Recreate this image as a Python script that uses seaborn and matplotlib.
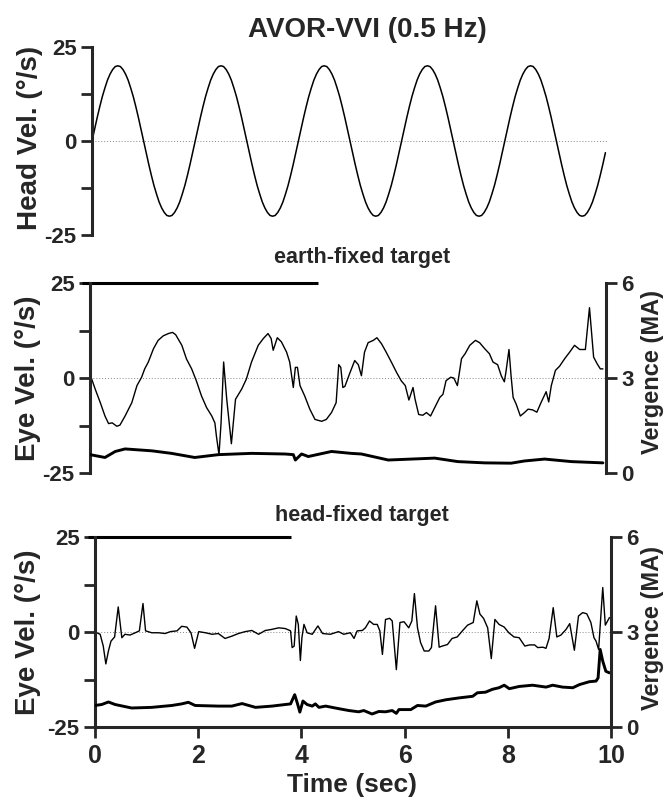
import numpy as np
import pandas as pd
import matplotlib
matplotlib.use('Agg')
import matplotlib.pyplot as plt
import seaborn as sns

sns.set_style('ticks')
plt.rcParams['font.family'] = ['Liberation Sans', 'DejaVu Sans']
plt.rcParams['font.weight'] = 'bold'

# Head velocity (deg/s), sampled every 0.05 s
head_t = [round(0.05 * i, 2) for i in range(199)] + [9.95]
head_vel = [
    0, 3.1, 6.2, 9.1, 11.8, 14.1, 16.2, 17.8, 19.0, 19.8, 20.0, 19.8, 19.0, 17.8, 16.2, 14.1, 11.8, 9.1, 6.2, 3.1,
    0, -3.1, -6.2, -9.1, -11.8, -14.1, -16.2, -17.8, -19.0, -19.8, -20.0, -19.8, -19.0, -17.8, -16.2, -14.1, -11.8, -9.1, -6.2, -3.1,
    0, 3.1, 6.2, 9.1, 11.8, 14.1, 16.2, 17.8, 19.0, 19.8, 20.0, 19.8, 19.0, 17.8, 16.2, 14.1, 11.8, 9.1, 6.2, 3.1,
    0, -3.1, -6.2, -9.1, -11.8, -14.1, -16.2, -17.8, -19.0, -19.8, -20.0, -19.8, -19.0, -17.8, -16.2, -14.1, -11.8, -9.1, -6.2, -3.1,
    0, 3.1, 6.2, 9.1, 11.8, 14.1, 16.2, 17.8, 19.0, 19.8, 20.0, 19.8, 19.0, 17.8, 16.2, 14.1, 11.8, 9.1, 6.2, 3.1,
    0, -3.1, -6.2, -9.1, -11.8, -14.1, -16.2, -17.8, -19.0, -19.8, -20.0, -19.8, -19.0, -17.8, -16.2, -14.1, -11.8, -9.1, -6.2, -3.1,
    0, 3.1, 6.2, 9.1, 11.8, 14.1, 16.2, 17.8, 19.0, 19.8, 20.0, 19.8, 19.0, 17.8, 16.2, 14.1, 11.8, 9.1, 6.2, 3.1,
    0, -3.1, -6.2, -9.1, -11.8, -14.1, -16.2, -17.8, -19.0, -19.8, -20.0, -19.8, -19.0, -17.8, -16.2, -14.1, -11.8, -9.1, -6.2, -3.1,
    0, 3.1, 6.2, 9.1, 11.8, 14.1, 16.2, 17.8, 19.0, 19.8, 20.0, 19.8, 19.0, 17.8, 16.2, 14.1, 11.8, 9.1, 6.2, 3.1,
    0, -3.1, -6.2, -9.1, -11.8, -14.1, -16.2, -17.8, -19.0, -19.8, -20.0, -19.8, -19.0, -17.8, -16.2, -14.1, -11.8, -9.1, -6.2,
    -3.1,
]

# Earth-fixed target: eye velocity (deg/s)
earth_t = [0.0, 0.10, 0.20, 0.29, 0.36, 0.43, 0.52, 0.58, 0.68, 0.81, 0.91, 1.00, 1.06, 1.13,
           1.23, 1.32, 1.42, 1.52, 1.60, 1.66, 1.78, 1.87, 1.97, 2.06, 2.16, 2.26, 2.36, 2.42,
           2.45, 2.50, 2.54, 2.59, 2.65, 2.74, 2.82, 2.94, 3.03, 3.13, 3.26, 3.36, 3.45, 3.51,
           3.55, 3.63, 3.71, 3.81, 3.87, 3.94, 3.98, 4.02, 4.07, 4.16, 4.26, 4.36, 4.49, 4.58,
           4.68, 4.77, 4.82, 4.86, 4.90, 4.94, 5.03, 5.13, 5.20, 5.26, 5.32, 5.39, 5.49, 5.56,
           5.65, 5.74, 5.84, 5.94, 6.03, 6.11, 6.18, 6.26, 6.30, 6.37, 6.45, 6.52, 6.60, 6.68,
           6.78, 6.84, 6.90, 6.99, 7.05, 7.12, 7.20, 7.27, 7.36, 7.47, 7.55, 7.65, 7.74, 7.81,
           7.90, 7.97, 8.03, 8.06, 8.12, 8.16, 8.20, 8.26, 8.34, 8.42, 8.49, 8.58, 8.66, 8.74,
           8.84, 8.89, 8.94, 9.02, 9.10, 9.20, 9.29, 9.39, 9.49, 9.60, 9.68, 9.76, 9.83, 9.89,
           9.94]
earth_eye = [1.0, -2.9, -6.5, -10.0, -12.0, -11.8, -12.7, -12.4, -10.0, -6.5, -2.0, 0.2, 2.4, 4.2,
             7.7, 9.9, 11.1, 11.7, 12.0, 11.4, 8.6, 5.0, 2.4, -0.7, -4.7, -7.8, -10.0, -11.8,
             -15.3, -20.2, -11.8, 4.2, -5.6, -17.3, -5.6, -2.9, -0.3, 4.2, 8.6, 10.4, 11.7, 10.4,
             7.3, 10.6, 9.5, 6.8, 4.2, -2.5, 2.8, 2.8, -2.0, -4.7, -8.2, -10.9, -11.4, -10.9,
             -9.1, -6.5, 3.5, 2.8, -2.5, -2.2, 1.1, 4.6, 3.5, 0.6, 6.8, 9.3, 9.9, 10.6,
             9.0, 6.8, 4.2, 1.5, -0.7, -2.0, -5.8, -2.5, -5.6, -9.6, -9.8, -9.1, -10.0, -7.8,
             -5.1, -4.3, -0.7, 0.2, 0.0, -2.0, 5.1, 6.4, 8.6, 9.9, 9.3, 7.7, 6.4, 4.2,
             3.5, 0.6, -1.0, 1.5, 7.5, 0.6, -5.1, -6.9, -10.0, -9.1, -8.2, -8.4, -9.0, -6.5,
             -3.6, -6.3, -2.0, 2.0, 3.1, 5.1, 6.7, 8.6, 7.5, 7.5, 18.5, 5.5, 3.7, 2.4,
             2.4]

# Earth-fixed target: vergence (MA)
earth_vt = [0.0, 0.29, 0.49, 0.68, 1.20, 1.58, 2.03, 2.49, 3.13, 3.78, 3.94, 3.98, 4.10, 4.23,
            4.68, 5.06, 5.26, 5.78, 6.23, 6.68, 7.13, 7.65, 8.16, 8.42, 8.81, 9.33, 9.94]
earth_verg = [0.58, 0.49, 0.68, 0.76, 0.70, 0.62, 0.49, 0.58, 0.62, 0.60, 0.58, 0.41, 0.60, 0.52,
              0.68, 0.62, 0.60, 0.41, 0.44, 0.47, 0.36, 0.32, 0.31, 0.38, 0.44, 0.36, 0.32]

# Head-fixed target: eye velocity (deg/s)
head_fix_t = [0.0, 0.10, 0.16, 0.21, 0.26, 0.31, 0.38, 0.45, 0.52, 0.58, 0.68, 0.78, 0.86, 0.93,
              0.98, 1.10, 1.23, 1.36, 1.46, 1.59, 1.68, 1.78, 1.86, 1.93, 2.01, 2.14, 2.27, 2.39,
              2.52, 2.65, 2.78, 2.91, 3.04, 3.17, 3.30, 3.43, 3.56, 3.69, 3.79, 3.82, 3.86, 3.90,
              3.94, 3.98, 4.01, 4.05, 4.11, 4.21, 4.32, 4.41, 4.56, 4.72, 4.82, 4.95, 5.02, 5.08,
              5.18, 5.24, 5.32, 5.40, 5.47, 5.52, 5.57, 5.63, 5.71, 5.76, 5.84, 5.91, 5.99, 6.08,
              6.14, 6.19, 6.25, 6.31, 6.38, 6.47, 6.52, 6.60, 6.67, 6.73, 6.83, 6.92, 7.02, 7.12,
              7.22, 7.33, 7.40, 7.46, 7.53, 7.61, 7.68, 7.75, 7.83, 7.93, 8.02, 8.12, 8.22, 8.33,
              8.42, 8.52, 8.58, 8.68, 8.74, 8.80, 8.88, 8.95, 9.03, 9.13, 9.20, 9.29, 9.37, 9.45,
              9.53, 9.61, 9.67, 9.71, 9.76, 9.84, 9.89, 9.97]
head_fix_eye = [0.0, -0.6, -3.7, -8.4, -5.0, -2.4, -1.3, 6.6, -1.5, -0.6, -0.8, -0.2, 0.3, 7.5,
                0.3, -0.2, -0.2, -0.4, 0.1, 0.3, 1.5, 1.3, -0.2, -4.3, 0.1, -0.2, -0.6, -0.4,
                -1.7, -1.1, -0.4, 0.1, 0.4, -0.6, 0.4, 0.7, 1.1, 0.9, 0.3, -4.1, -3.7, 4.2,
                2.0, -7.5, -1.5, 2.0, -0.2, -0.6, 1.6, -0.4, -0.6, 0.1, -0.6, -0.2, -1.7, 0.3,
                0.4, 1.1, 2.9, 2.0, 2.0, 0.3, -5.9, 3.3, 3.6, 2.9, -9.9, 2.5, 2.7, 1.1,
                2.9, 10.1, 1.1, -2.8, -5.0, -5.0, -4.1, 6.9, -4.0, -3.7, -3.3, -1.7, -1.3, 0.3,
                1.8, 2.5, 8.2, 4.7, 3.6, 1.1, -7.0, 3.3, 2.0, 1.3, -0.2, -1.3, -1.5, -3.7,
                -3.4, -3.4, -4.1, -4.0, -4.3, -1.7, 6.4, -1.3, -0.8, 0.7, 2.2, -4.8, 4.2, 5.1,
                4.8, 2.5, -1.5, -2.4, -4.6, 11.7, 1.8, 3.8]

# Head-fixed target: vergence (MA)
head_fix_vt = [0.0, 0.13, 0.26, 0.39, 0.71, 1.10, 1.49, 1.68, 1.81, 1.94, 2.39, 2.65, 2.85, 3.11,
               3.43, 3.79, 3.87, 3.92, 3.97, 4.03, 4.11, 4.21, 4.27, 4.34, 4.47, 4.72, 4.92, 5.11,
               5.21, 5.37, 5.50, 5.63, 5.76, 5.84, 5.89, 6.12, 6.25, 6.41, 6.60, 6.80, 7.06, 7.32,
               7.41, 7.57, 7.70, 7.83, 7.93, 8.03, 8.22, 8.48, 8.74, 8.87, 9.06, 9.26, 9.39, 9.58,
               9.71, 9.75, 9.79, 9.84, 9.90, 9.97]
head_fix_verg = [0.68, 0.71, 0.79, 0.71, 0.60, 0.62, 0.68, 0.73, 0.78, 0.68, 0.66, 0.66, 0.74, 0.62,
                 0.66, 0.73, 1.02, 0.76, 0.47, 0.82, 0.71, 0.66, 0.73, 0.62, 0.66, 0.58, 0.52, 0.48,
                 0.52, 0.41, 0.49, 0.48, 0.52, 0.43, 0.55, 0.55, 0.68, 0.66, 0.79, 0.86, 0.92, 0.97,
                 1.08, 1.10, 1.19, 1.24, 1.32, 1.21, 1.28, 1.32, 1.26, 1.32, 1.26, 1.24, 1.34, 1.43,
                 1.45, 1.55, 2.45, 2.08, 1.76, 1.71]

# Target bar shown along the top of each eye panel (sec)
earth_bar = [-0.15, 4.42]
head_bar = [-0.14, 3.80]

W, H = 665, 802
fig = plt.figure(figsize=(W / 100, H / 100), dpi=100)

def box(left, top, bottom, width=516):
    return [left / W, 1 - bottom / H, width / W, (bottom - top) / H]

ax_head = fig.add_axes(box(92, 47, 235))
ax_earth = fig.add_axes(box(90, 283, 473))
ax_hf = fig.add_axes(box(95, 537, 727))

TICK = dict(direction='out', length=8, width=2, labelsize=16, pad=3)
yticks = [-25, -12.5, 0, 12.5, 25]
ylabels = ['-25', '', '0', '', '25']


def style_left(ax):
    ax.set_xlim(0, 10)
    ax.set_ylim(-25, 25)
    for s in ['top', 'right', 'bottom']:
        ax.spines[s].set_visible(False)
    ax.spines['left'].set_linewidth(2.2)
    ax.set_yticks(yticks)
    ax.set_yticklabels(ylabels, fontweight='bold')
    ax.tick_params(axis='y', **TICK)
    ax.axhline(0, color='#888888', lw=0.7, ls=(0, (1, 2)), zorder=0)
    ax.set_xlabel('')
    ax.set_ylabel('')


# Top panel: head velocity
sns.lineplot(x=head_t, y=head_vel, ax=ax_head, color='black', lw=1.1,
             estimator=None, sort=False)
style_left(ax_head)
ax_head.set_xticks([])


def eye_panel(ax, t, eye, vt, verg, bar):
    sns.lineplot(x=t, y=eye, ax=ax, color='black', lw=1.0, estimator=None, sort=False)
    style_left(ax)
    ax.plot(bar, [25, 25], color='black', lw=2.2, clip_on=False, solid_capstyle='butt')
    ax2 = ax.twinx()
    sns.lineplot(x=vt, y=verg, ax=ax2, color='black', lw=2.1, estimator=None, sort=False)
    ax2.set_ylim(0, 6)
    ax2.set_xlim(0, 10)
    for s in ['top', 'left', 'bottom']:
        ax2.spines[s].set_visible(False)
    ax2.spines['right'].set_linewidth(2.2)
    ax2.set_yticks([0, 3, 6])
    ax2.set_yticklabels(['0', '3', '6'], fontweight='bold')
    ax2.tick_params(axis='y', **TICK)
    ax2.set_ylabel('')
    return ax2


eye_panel(ax_earth, earth_t, earth_eye, earth_vt, earth_verg, earth_bar)
ax_earth.set_xticks([])

eye_panel(ax_hf, head_fix_t, head_fix_eye, head_fix_vt, head_fix_verg, head_bar)
ax_hf.spines['bottom'].set_visible(True)
ax_hf.spines['bottom'].set_linewidth(2.2)
ax_hf.set_xticks([0, 2, 4, 6, 8, 10])
ax_hf.set_xticklabels(['0', '2', '4', '6', '8', '10'], fontweight='bold')
ax_hf.tick_params(axis='x', direction='out', length=8, width=2, labelsize=18, pad=4)

# Texts
fig.text(367 / W, 1 - 30 / H, 'AVOR-VVI (0.5 Hz)', ha='center', va='center',
         fontsize=20, fontweight='bold')
fig.text(362 / W, 1 - 258 / H, 'earth-fixed target', ha='center', va='center',
         fontsize=15.5, fontweight='bold')
fig.text(362 / W, 1 - 516 / H, 'head-fixed target', ha='center', va='center',
         fontsize=15.5, fontweight='bold')
fig.text(30 / W, 1 - 138 / H, 'Head Vel. (°/s)', rotation=90, ha='center', va='center',
         fontsize=20, fontweight='bold')
fig.text(28 / W, 1 - 378 / H, 'Eye Vel. (°/s)', rotation=90, ha='center', va='center',
         fontsize=20, fontweight='bold')
fig.text(28 / W, 1 - 632 / H, 'Eye Vel. (°/s)', rotation=90, ha='center', va='center',
         fontsize=20, fontweight='bold')
fig.text(652 / W, 1 - 372 / H, 'Vergence (MA)', rotation=90, ha='center', va='center',
         fontsize=17, fontweight='bold')
fig.text(652 / W, 1 - 628 / H, 'Vergence (MA)', rotation=90, ha='center', va='center',
         fontsize=17, fontweight='bold')
fig.text(352 / W, 1 - 785 / H, 'Time (sec)', ha='center', va='center',
         fontsize=19, fontweight='bold')

fig.savefig('out.png', dpi=100)
